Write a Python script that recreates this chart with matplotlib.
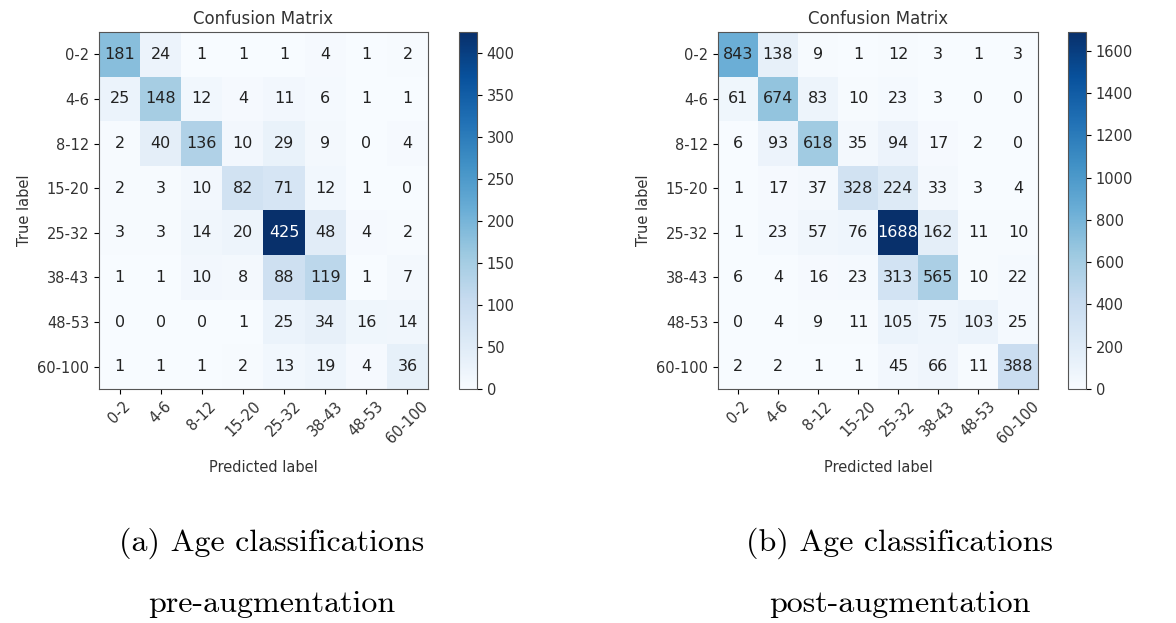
import numpy as np
import matplotlib
matplotlib.use("Agg")
import matplotlib.pyplot as plt

labels = ["0-2", "4-6", "8-12", "15-20", "25-32", "38-43", "48-53", "60-100"]

cm_pre = [
    [181, 24, 1, 1, 1, 4, 1, 2],
    [25, 148, 12, 4, 11, 6, 1, 1],
    [2, 40, 136, 10, 29, 9, 0, 4],
    [2, 3, 10, 82, 71, 12, 1, 0],
    [3, 3, 14, 20, 425, 48, 4, 2],
    [1, 1, 10, 8, 88, 119, 1, 7],
    [0, 0, 0, 1, 25, 34, 16, 14],
    [1, 1, 1, 2, 13, 19, 4, 36],
]

cm_post = [
    [843, 138, 9, 1, 12, 3, 1, 3],
    [61, 674, 83, 10, 23, 3, 0, 0],
    [6, 93, 618, 35, 94, 17, 2, 0],
    [1, 17, 37, 328, 224, 33, 3, 4],
    [1, 23, 57, 76, 1688, 162, 11, 10],
    [6, 4, 16, 23, 313, 565, 10, 22],
    [0, 4, 9, 11, 105, 75, 103, 25],
    [2, 2, 1, 1, 45, 66, 11, 388],
]

captions = [("(a) Age classifications", "pre-augmentation"),
            ("(b) Age classifications", "post-augmentation")]

fig = plt.figure(figsize=(11.76, 6.23), dpi=100)
W, H = 1176, 623

def box(x0, y0, x1, y1):
    return [x0 / W, 1 - y1 / H, (x1 - x0) / W, (y1 - y0) / H]

panels = [
    (cm_pre, box(99, 32, 428, 389), box(459, 32, 477, 389), 272),
    (cm_post, box(718, 32, 1038, 389), box(1068, 32, 1086, 389), 900),
]

for (cm, axbox, cbbox, cx), (cap1, cap2) in zip(panels, captions):
    cm = np.array(cm)
    ax = fig.add_axes(axbox)
    im = ax.imshow(cm, cmap="Blues", aspect="auto", interpolation="nearest")
    ax.set_title("Confusion Matrix", fontsize=12, color="#333333", pad=6)
    n = len(labels)
    ax.set_xticks(np.arange(n))
    ax.set_yticks(np.arange(n))
    ax.set_xticklabels(labels, rotation=45, fontsize=10.5, color="#333333")
    ax.set_yticklabels(labels, fontsize=10.5, color="#333333")
    ax.set_ylabel("True label", fontsize=10.5, color="#333333")
    ax.set_xlabel("Predicted label", fontsize=10.5, color="#333333", labelpad=10)
    for s in ax.spines.values():
        s.set_color("#555555")
    thresh = cm.max() / 2.0
    for i in range(n):
        for j in range(n):
            ax.text(j, i, str(cm[i, j]), ha="center", va="center",
                    fontsize=11.5,
                    color="white" if cm[i, j] > thresh else "#222222")
    cax = fig.add_axes(cbbox)
    cb = fig.colorbar(im, cax=cax)
    cb.ax.tick_params(labelsize=10.5, labelcolor="#333333")
    cb.outline.set_edgecolor("#555555")
    fig.text(cx / W, 1 - 543 / H, cap1, ha="center", va="center",
             fontsize=23, family="cmr10")
    fig.text(cx / W, 1 - 604 / H, cap2, ha="center", va="center",
             fontsize=23, family="cmr10")

fig.savefig("out.png", dpi=100)
